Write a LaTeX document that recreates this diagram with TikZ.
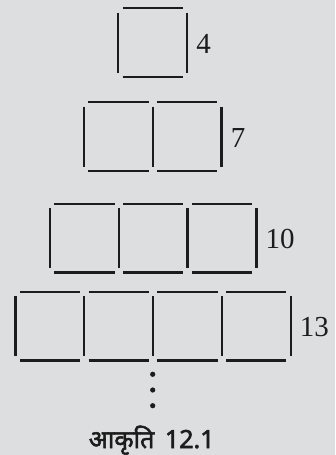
\documentclass[tikz,border=0pt]{standalone}
\usepackage{fontspec}
\setmainfont{Liberation Serif}
\newfontfamily\devfont[Script=Devanagari,FakeBold=2.2]{Noto Sans}
\definecolor{bg}{RGB}{221,222,224}
\definecolor{ink}{RGB}{28,28,28}
\begin{document}
\begin{tikzpicture}[x=1pt,y=-1pt,
  stick/.style={line width=2.3pt, draw=ink},
  num/.style={anchor=west, font=\fontsize{29}{29}\selectfont, inner sep=0pt, text=ink},
  dotnode/.style={circle, fill=ink, inner sep=0pt, minimum size=5.2pt}]
\fill[bg] (0,0) rectangle (335,455);
\useasboundingbox (0,0) rectangle (335,455);
\def\s{68.8}\def\g{4.3}
\foreach \lx/\ty/\n/\lab/\nm in {118.3/8.3/1/4/a, 84/102.3/2/7/b, 50/203.8/3/10/c, 15.5/291.7/4/13/d} {
  \foreach \i in {1,...,\n} {
    \pgfmathsetmacro\xa{\lx+(\i-1)*\s}
    \draw[stick] (\xa+\g,\ty) -- (\xa+\s-\g,\ty);
    \draw[stick] (\xa+\g,\ty+\s) -- (\xa+\s-\g,\ty+\s);
    \draw[stick] (\xa,\ty+\g) -- (\xa,\ty+\s-\g);
  }
  \pgfmathsetmacro\xr{\lx+\n*\s}
  \draw[stick] (\xr,\ty+\g) -- (\xr,\ty+\s-\g);
  \node[num] (lab\nm) at (\xr+9,\ty+\s/2+1) {\lab};
}
\node[dotnode] (d1) at (152.7,374.3) {};
\node[dotnode] (d2) at (152.7,390) {};
\node[dotnode] (d3) at (152.7,405.7) {};
\node[font=\devfont\fontsize{25}{25}\selectfont, text=ink, inner sep=0pt, anchor=base] (cap) at (151.7,448) {आकृति\, 12.1};
\end{tikzpicture}
\end{document}
